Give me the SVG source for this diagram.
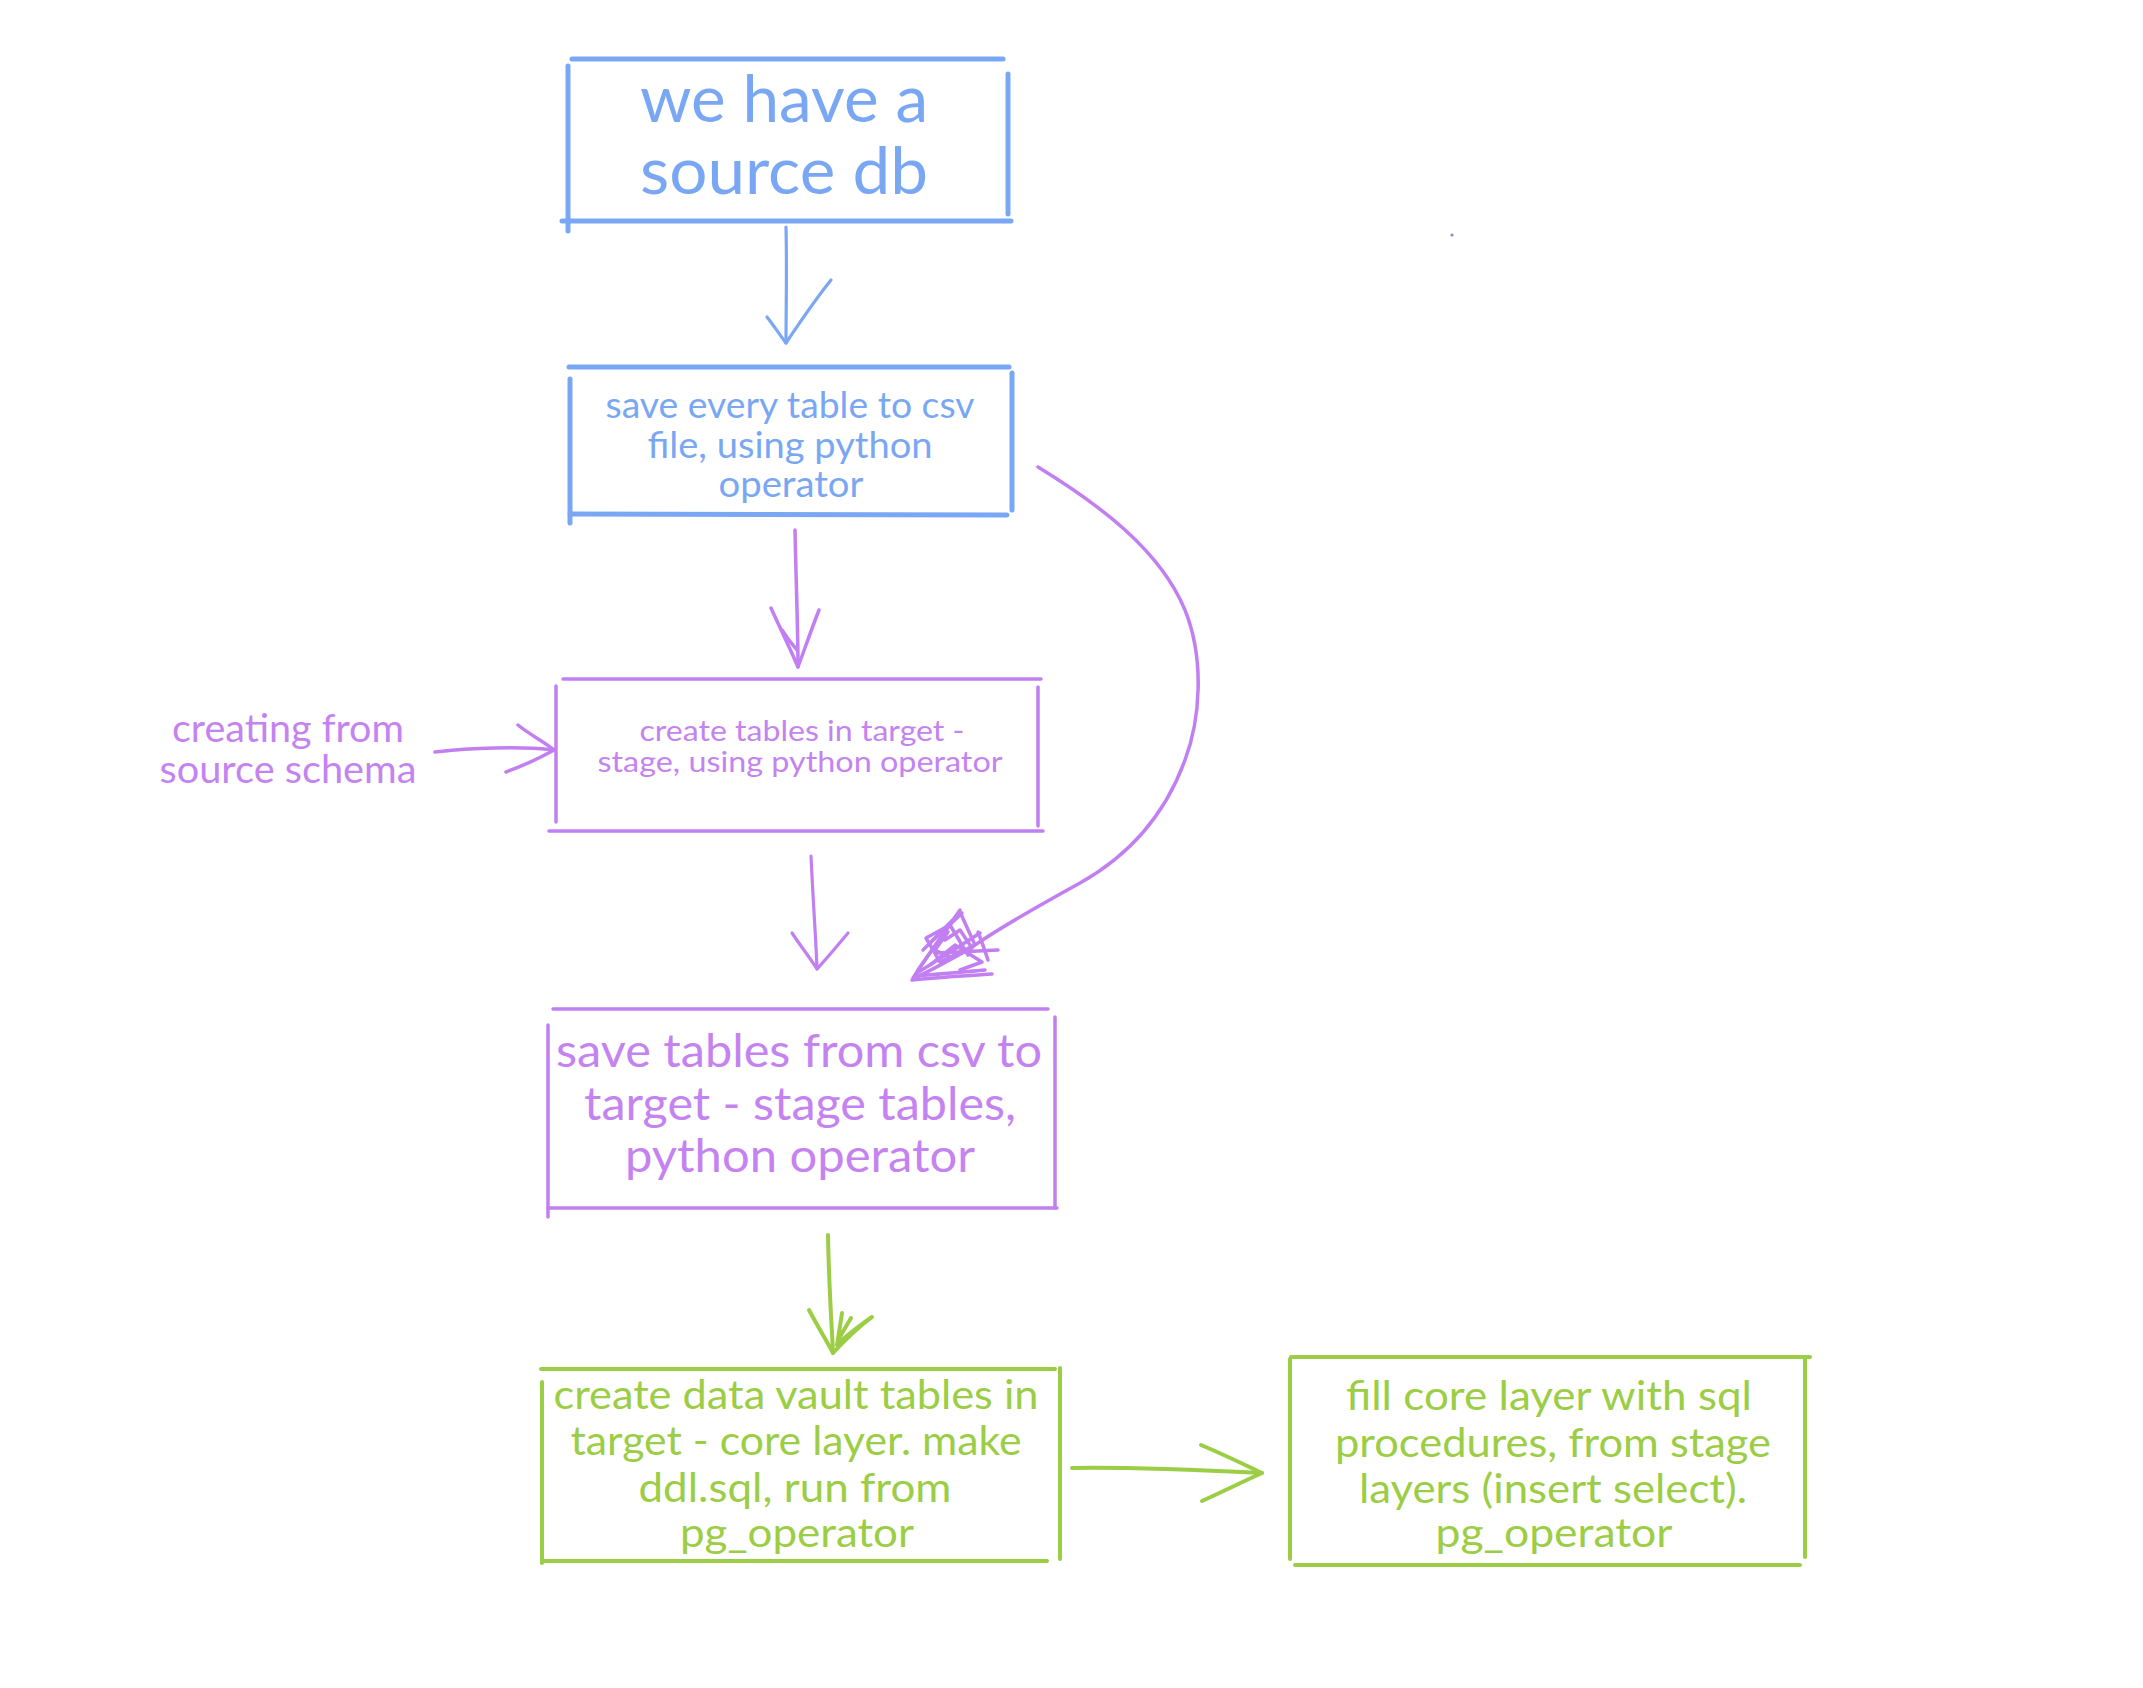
<svg xmlns="http://www.w3.org/2000/svg" width="2143" height="1688" viewBox="0 0 2143 1688">
<style>
  .b { stroke: #7aa7f4; }
  .p { stroke: #c17ff1; }
  .g { stroke: #9bcd45; }
  .edge { fill: none; stroke-linecap: round; stroke-linejoin: round; }
  .bw { stroke-width: 5; }
  .pw { stroke-width: 3.5; }
  .gw { stroke-width: 4; }
  .cw { stroke-width: 3.2; }
  text { font-family: "Lato", "Noto Sans", "Liberation Sans", sans-serif; text-anchor: middle; }
  .tb { fill: #7aa7f4; }
  .tp { fill: #c483f0; }
  .tg { fill: #9bcd45; }
</style>
<rect width="2143" height="1688" fill="#ffffff"/>

<g id="node-source-db">
  <g class="edge b bw">
    <line x1="572" y1="59" x2="1003" y2="59"/>
    <line x1="568" y1="66" x2="568" y2="231"/>
    <line x1="1008" y1="74" x2="1008" y2="214"/>
    <line x1="562" y1="221" x2="1011" y2="221"/>
  </g>
  <text class="tb" font-size="66" x="784" y="122" textLength="288" lengthAdjust="spacingAndGlyphs">we have a</text>
  <text class="tb" font-size="66" x="784" y="194" textLength="288" lengthAdjust="spacingAndGlyphs">source db</text>
</g>

<g id="node-save-csv">
  <g class="edge b bw">
    <line x1="569" y1="367" x2="1009" y2="367"/>
    <line x1="570" y1="379" x2="570" y2="523"/>
    <line x1="1012" y1="373" x2="1012" y2="510"/>
    <line x1="570" y1="514" x2="1007" y2="515"/>
  </g>
  <text class="tb" font-size="36" x="790" y="418" textLength="369" lengthAdjust="spacingAndGlyphs">save every table to csv</text>
  <text class="tb" font-size="36" x="790" y="458" textLength="285" lengthAdjust="spacingAndGlyphs">file, using python</text>
  <text class="tb" font-size="36" x="791" y="497" textLength="145" lengthAdjust="spacingAndGlyphs">operator</text>
</g>

<g id="label-creating">
  <text class="tp" font-size="38" x="288" y="742" textLength="232" lengthAdjust="spacingAndGlyphs">creating from</text>
  <text class="tp" font-size="38" x="288" y="783" textLength="257" lengthAdjust="spacingAndGlyphs">source schema</text>
</g>

<g id="node-create-stage">
  <g class="edge p pw">
    <line x1="563" y1="679" x2="1041" y2="679"/>
    <line x1="556" y1="686" x2="556" y2="822"/>
    <line x1="1038" y1="687" x2="1038" y2="826"/>
    <line x1="549" y1="831" x2="1043" y2="831"/>
  </g>
  <text class="tp" font-size="29" x="802" y="741" textLength="325" lengthAdjust="spacingAndGlyphs">create tables in target -</text>
  <text class="tp" font-size="29" x="800" y="772" textLength="405" lengthAdjust="spacingAndGlyphs">stage, using python operator</text>
</g>

<g id="node-save-stage">
  <g class="edge p pw">
    <line x1="553" y1="1009" x2="1048" y2="1009"/>
    <line x1="548" y1="1025" x2="548" y2="1217"/>
    <line x1="1055" y1="1017" x2="1055" y2="1208"/>
    <line x1="548" y1="1208" x2="1057" y2="1208"/>
  </g>
  <text class="tp" font-size="47" x="799" y="1067" textLength="486" lengthAdjust="spacingAndGlyphs">save tables from csv to</text>
  <text class="tp" font-size="47" x="800" y="1120" textLength="432" lengthAdjust="spacingAndGlyphs">target - stage tables,</text>
  <text class="tp" font-size="47" x="800" y="1172" textLength="350" lengthAdjust="spacingAndGlyphs">python operator</text>
</g>

<g id="node-core-ddl">
  <g class="edge g gw">
    <line x1="541" y1="1369" x2="1055" y2="1369"/>
    <line x1="542" y1="1382" x2="542" y2="1563"/>
    <line x1="1060" y1="1368" x2="1060" y2="1559"/>
    <line x1="542" y1="1561" x2="1047" y2="1561"/>
  </g>
  <text class="tg" font-size="41" x="796" y="1409" textLength="485" lengthAdjust="spacingAndGlyphs">create data vault tables in</text>
  <text class="tg" font-size="41" x="796" y="1455" textLength="451" lengthAdjust="spacingAndGlyphs">target - core layer. make</text>
  <text class="tg" font-size="41" x="795" y="1502" textLength="313" lengthAdjust="spacingAndGlyphs">ddl.sql, run from</text>
  <text class="tg" font-size="41" x="797" y="1547" textLength="234" lengthAdjust="spacingAndGlyphs">pg_operator</text>
</g>

<g id="node-fill-core">
  <g class="edge g gw">
    <line x1="1291" y1="1357" x2="1810" y2="1357"/>
    <line x1="1290" y1="1359" x2="1290" y2="1559"/>
    <line x1="1805" y1="1358" x2="1805" y2="1557"/>
    <line x1="1295" y1="1565" x2="1800" y2="1565"/>
  </g>
  <text class="tg" font-size="41" x="1549" y="1410" textLength="406" lengthAdjust="spacingAndGlyphs">fill core layer with sql</text>
  <text class="tg" font-size="41" x="1553" y="1457" textLength="436" lengthAdjust="spacingAndGlyphs">procedures, from stage</text>
  <text class="tg" font-size="41" x="1553" y="1503" textLength="388" lengthAdjust="spacingAndGlyphs">layers (insert select).</text>
  <text class="tg" font-size="41" x="1554" y="1547" textLength="237" lengthAdjust="spacingAndGlyphs">pg_operator</text>
</g>

<g id="connectors">
  <g class="edge b cw">
    <path d="M786,227 C787,270 786,310 786,343"/>
    <path d="M767,317 C774,326 780,335 786,343 C800,322 815,300 831,280"/>
  </g>
  <g class="edge p pw">
    <path d="M795,530 C796,580 798,630 798,667"/>
    <path d="M771,608 C780,628 790,648 798,667 C805,648 812,628 819,610"/>
    <path d="M782,630 C788,640 793,645 797,650"/>
  </g>
  <g class="edge p pw">
    <path d="M435,752 C470,748 520,746 554,750"/>
    <path d="M518,725 C530,735 545,742 554,750 C540,758 522,766 506,772"/>
  </g>
  <g class="edge p cw">
    <path d="M811,856 C813,900 816,940 817,969"/>
    <path d="M792,933 C800,945 810,958 817,969 C828,957 838,945 848,933"/>
  </g>
  <g class="edge p pw">
    <path d="M1038,467 C1100,505 1160,550 1185,610 C1205,660 1200,720 1185,760 C1165,815 1130,855 1080,883 C1040,905 1000,928 975,945 C955,958 935,968 915,978"/>
    <path d="M912,980 C940,977 965,976 992,974"/>
    <path d="M915,976 C940,974 965,972 985,970"/>
    <path d="M913,978 C928,955 945,932 960,910"/>
    <path d="M918,970 C932,950 946,930 957,915"/>
    <path d="M923,950 C935,938 950,925 962,913"/>
    <path d="M928,945 C940,933 950,922 958,915"/>
    <path d="M937,953 C958,952 978,951 998,950"/>
    <path d="M978,932 C982,942 985,951 988,960"/>
    <path d="M917,973 C938,960 960,946 980,933"/>
    <path d="M960,912 L975,945 L940,962 L926,938 L950,925 L968,955"/>
    <path d="M945,940 L960,930 L972,948 L952,958 L935,950 L948,932"/>
    <path d="M930,965 L955,945 L982,962 L960,970"/>
  </g>
  <g class="edge g gw">
    <path d="M828,1235 C829,1290 832,1330 833,1353"/>
    <path d="M809,1310 C817,1325 826,1340 833,1353 C845,1340 860,1326 872,1317 C860,1325 848,1335 838,1343"/>
    <path d="M837,1345 L842,1313 M838,1340 L851,1318"/>
  </g>
  <g class="edge g gw">
    <path d="M1072,1468 C1130,1467 1200,1470 1262,1473"/>
    <path d="M1201,1445 C1225,1455 1245,1465 1262,1473 C1242,1482 1222,1492 1202,1501"/>
  </g>
</g>

<circle cx="1452" cy="235" r="1.6" fill="#7f8bd0"/>
</svg>
